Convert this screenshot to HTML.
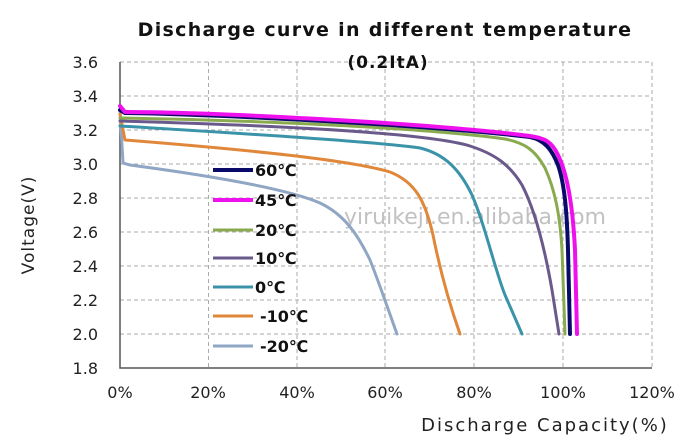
<!DOCTYPE html><html><head><style>body{margin:0;background:#fff}svg{display:block}text{font-family:"DejaVu Sans","Liberation Sans",sans-serif}</style></head><body>
<svg width="688" height="439" xmlns="http://www.w3.org/2000/svg">
<g stroke="#aaa" stroke-dasharray="4,3" stroke-width="1" fill="none">
<path d="M120 62H652M120 96H652M120 130H652M120 164H652M120 198H652M120 232H652M120 266H652M120 300H652M120 334H652"/>
<path d="M208.5 62V368M297 62V368M385 62V368M474 62V368M563 62V368M652 62V368"/>
</g>
<path d="M120 62V368H652" stroke="#555" stroke-width="1.5" fill="none"/>
<g font-size="16" fill="#222" text-anchor="end">
<text x="98" y="68">3.6</text><text x="98" y="102">3.4</text><text x="98" y="136">3.2</text><text x="98" y="170">3.0</text><text x="98" y="204">2.8</text><text x="98" y="238">2.6</text><text x="98" y="272">2.4</text><text x="98" y="306">2.2</text><text x="98" y="340">2.0</text><text x="98" y="374">1.8</text>
</g>
<g font-size="16" fill="#222" text-anchor="middle">
<text x="120" y="398">0%</text><text x="208" y="398">20%</text><text x="297" y="398">40%</text><text x="385" y="398">60%</text><text x="474" y="398">80%</text><text x="563" y="398">100%</text><text x="652" y="398">120%</text>
</g>
<text x="545" y="431" font-size="18" letter-spacing="2" fill="#222" text-anchor="middle">Discharge Capacity(%)</text>
<text transform="translate(34 225) rotate(-90)" font-size="17" letter-spacing="1" fill="#222" text-anchor="middle">Voltage(V)</text>
<text x="385" y="36" font-size="19" letter-spacing="1.3" font-weight="bold" fill="#111" text-anchor="middle">Discharge curve in different temperature</text>
<text x="388" y="68" font-size="17" letter-spacing="1" font-weight="bold" fill="#111" text-anchor="middle">(0.2ItA)</text>
<text x="344" y="224" font-size="22" fill="#999" opacity="0.6">yiruikeji.en.alibaba.com</text>
<g fill="none" stroke-linejoin="round" stroke-linecap="round">
<path d="M120 110L123 163L130 165C220 177 290 190 320 203C345 215 358 235 370 260C380 285 390 315 397 334" stroke="#8fa6c5" stroke-width="3"/>
<path d="M120 114L125 140C250 150 350 160 390 172C415 182 425 200 433 235C440 270 448 300 460 334" stroke="#e0873a" stroke-width="3"/>
<path d="M120 126C250 134 380 142 420 148C445 154 460 170 472 195C485 225 495 270 505 295L522 334" stroke="#3a93a8" stroke-width="3"/>
<path d="M120 121C300 126 430 134 470 146C495 154 510 165 522 185C535 210 545 250 552 290L559 334" stroke="#6a5a8c" stroke-width="3"/>
<path d="M120 118C250 120 430 128 505 139C525 143 535 150 545 168C555 190 560 215 562 250L565 334" stroke="#8aaa50" stroke-width="3"/>
<path d="M120 110L125 113C200 114 420 124 530 137C545 140 552 150 558 165C565 185 567 215 568 250L570 334" stroke="#0a0a6a" stroke-width="4"/>
<path d="M120 106L125 112C200 112 420 122 530 136C545 138 552 142 558 155C568 175 573 210 575 250L577 334" stroke="#ee11ee" stroke-width="4"/>
</g>
<g stroke-width="4">
<line x1="213" y1="170" x2="253" y2="170" stroke="#0a0a6a"/>
<line x1="213" y1="200" x2="253" y2="200" stroke="#ee11ee"/>
<line x1="213" y1="230" x2="253" y2="230" stroke="#8aaa50" stroke-width="3"/>
<line x1="213" y1="258" x2="253" y2="258" stroke="#6a5a8c" stroke-width="3"/>
<line x1="213" y1="287" x2="253" y2="287" stroke="#3a93a8" stroke-width="3"/>
<line x1="213" y1="316" x2="253" y2="316" stroke="#e0873a" stroke-width="3"/>
<line x1="213" y1="346" x2="253" y2="346" stroke="#8fa6c5" stroke-width="3"/>
</g>
<g font-size="16" font-weight="bold" fill="#111">
<text x="255" y="176">60℃</text><text x="255" y="206">45℃</text><text x="255" y="236">20℃</text><text x="255" y="264">10℃</text><text x="255" y="293">0℃</text><text x="260" y="322">-10℃</text><text x="260" y="352">-20℃</text>
</g>
</svg>
</body></html>
